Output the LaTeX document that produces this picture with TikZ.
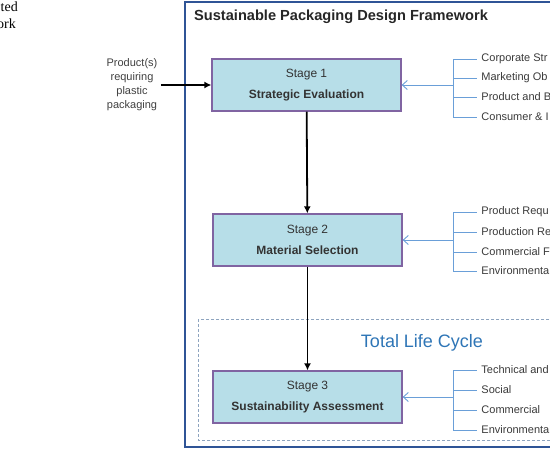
\documentclass[tikz,border=0pt]{standalone}
\usepackage{fontspec}
\setmainfont{Liberation Sans}
\newfontfamily\capfont{Liberation Serif}
\usetikzlibrary{arrows.meta}
\definecolor{frameblue}{HTML}{2F5496}
\definecolor{stagefill}{HTML}{B7DEE8}
\definecolor{stageline}{HTML}{8064A2}
\definecolor{linkblue}{HTML}{6A9FD8}
\definecolor{cycleblue}{HTML}{2E75B6}
\definecolor{dashgray}{HTML}{8EA4BF}
\definecolor{itemgray}{HTML}{3A3A3A}
\tikzset{
  stage/.style={draw=stageline,line width=1.3pt,fill=stagefill,minimum width=189pt,minimum height=52pt,align=center,font=\fontsize{12}{14}\selectfont,text=black!80},
  item/.style={anchor=west,inner sep=0pt,font=\fontsize{11}{13}\selectfont,text=itemgray},
  flow/.style={line width=1.8pt,-{Latex[length=7pt,width=7pt]}},
  feed/.style={draw=linkblue,line width=0.9pt,-{Straight Barb[length=5pt,width=9pt]}},
  brace/.style={draw=linkblue,line width=0.9pt}
}
\begin{document}
\begin{tikzpicture}[x=1pt,y=-1pt]
    \path[use as bounding box](0,0)rectangle(550,450);
    \clip(0,0)rectangle(550,450);
    % caption fragments from the page
    \node[anchor=base east,inner sep=0pt,font=\capfont\fontsize{14}{16}\selectfont](capa)at(18,11){ted};
    \node[anchor=base east,inner sep=0pt,font=\capfont\fontsize{14}{16}\selectfont](capb)at(16,28){ork};
    % frames
    \draw[frameblue,line width=2.2pt](185,2)rectangle(570,447);
    \draw[dashgray,line width=1pt,dash pattern=on 3pt off 2pt](198,319)rectangle(570,440);
    \node[anchor=west,inner sep=0pt,font=\bfseries\fontsize{14.6}{16}\selectfont,text=black!85](title)at(194,17){Sustainable Packaging Design Framework};
    \node[text=cycleblue,font=\fontsize{18}{20}\selectfont](tlc)at(422,343){Total Life Cycle};
    % stages
    \node[stage](s1)at(306.5,85){Stage 1\\[7pt]\textbf{Strategic Evaluation}};
    \node[stage](s2)at(307.5,240){Stage 2\\[7pt]\textbf{Material Selection}};
    \node[stage](s3)at(307.5,397){Stage 3\\[7pt]\textbf{Sustainability Assessment}};
    \node[align=center,font=\fontsize{11}{14}\selectfont,text=black!75](prod)at(132,85){Product(s)\\requiring\\plastic\\packaging};
    \draw[flow](prod.east)--(s1.west);
    \draw[flow](s1)--(s2);
    \draw[flow](s2)--(s3);
    % inputs on the right
    \coordinate(b1)at(453,85);
    \coordinate(b2)at(453,240);
    \coordinate(b3)at(453,397);
    \draw[feed](b1)--(s1.east);
    \draw[feed](b2)--(s2.east);
    \draw[feed](b3)--(s3.east);
    \draw[brace](453,59)--(453,117);
    \draw[brace](453,212)--(453,271);
    \draw[brace](453,370)--(453,430);
    \foreach \y/\t in {59/Corporate Str,78/Marketing Ob,97/Product and B,117/Consumer \& I,
                       212/Product Requ,232/Production Re,252/Commercial F,271/Environmenta,
                       370/Technical and,390/Social,410/Commercial,430/Environmental}{
        \draw[brace](453,\y)--(477,\y)node[item,xshift=4pt](i\y){\t};
    }
\end{tikzpicture}
\end{document}
